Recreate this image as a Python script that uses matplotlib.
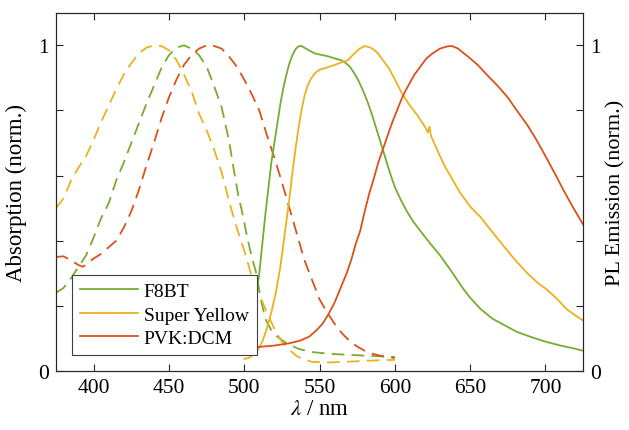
import numpy as np
import matplotlib.pyplot as plt
import matplotlib as mpl
from matplotlib.ticker import FixedLocator, FuncFormatter

mpl.rcParams.update({'font.family': 'Liberation Serif',
                     'mathtext.fontset': 'stix',
                     'font.size': 15.5})

GREEN = '#77AC30'
YELLOW = '#EDB120'
RED = '#D95319'

# absorption spectra (dashed)
f8bt_abs_wl = [375, 380, 385, 390, 395, 400, 405, 410, 415, 420, 425, 430, 435, 440, 445,
               450, 455, 460, 465, 470, 475, 480, 485, 490, 493, 496, 499, 502, 505, 508,
               511, 514, 518, 522, 528, 536, 545, 556, 567, 580, 590, 600]
f8bt_abs = [0.24, 0.255, 0.285, 0.32, 0.355, 0.41, 0.47, 0.515, 0.585, 0.64, 0.70, 0.76,
            0.82, 0.875, 0.93, 0.97, 0.993, 1.0, 0.99, 0.97, 0.935, 0.875, 0.81, 0.705,
            0.62, 0.54, 0.48, 0.41, 0.35, 0.30, 0.22, 0.16, 0.125, 0.105, 0.085, 0.068,
            0.058, 0.053, 0.05, 0.047, 0.045, 0.043]

sy_abs_wl = [375, 380, 385, 390, 395, 400, 405, 410, 415, 420, 425, 430, 435, 440, 445,
             450, 455, 460, 465, 470, 475, 480, 485, 490, 495, 500, 505, 510, 515, 520,
             525, 530, 535, 540, 545, 555, 567, 580, 590, 600]
sy_abs = [0.50, 0.53, 0.585, 0.625, 0.66, 0.71, 0.765, 0.815, 0.865, 0.91, 0.945, 0.975,
          0.993, 1.0, 0.998, 0.985, 0.955, 0.91, 0.86, 0.79, 0.74, 0.68, 0.61, 0.52, 0.44,
          0.37, 0.29, 0.235, 0.18, 0.13, 0.09, 0.065, 0.045, 0.035, 0.028, 0.026, 0.028,
          0.031, 0.033, 0.034]

dcm_abs_wl = [375, 380, 385, 390, 393, 397, 400, 405, 410, 415, 420, 425, 430, 435, 440,
              445, 450, 455, 460, 465, 470, 475, 480, 485, 490, 495, 500, 505, 510, 515,
              520, 525, 530, 535, 540, 545, 550, 555, 560, 565, 570, 575, 580, 585, 590,
              595, 600]
dcm_abs = [0.35, 0.352, 0.34, 0.325, 0.32, 0.335, 0.345, 0.36, 0.38, 0.40, 0.44, 0.49,
           0.555, 0.63, 0.70, 0.775, 0.84, 0.895, 0.94, 0.97, 0.99, 1.0, 0.998, 0.99,
           0.965, 0.935, 0.895, 0.85, 0.80, 0.725, 0.655, 0.58, 0.50, 0.42, 0.34, 0.28,
           0.22, 0.18, 0.145, 0.115, 0.092, 0.075, 0.062, 0.053, 0.047, 0.043, 0.04]

# photoluminescence spectra (solid)
f8bt_pl_wl = [500, 503, 506, 508, 510, 512, 514, 516, 518, 520, 522, 524, 526, 528, 530,
              532, 534, 536, 538, 541, 544, 547, 552, 556, 560, 564, 567, 570, 573, 576,
              579, 582, 585, 588, 591, 594, 597, 600, 604, 608, 612, 617, 622, 630, 637,
              645, 650, 657, 665, 673, 681, 690, 700, 710, 718, 725]
f8bt_pl = [0.06, 0.10, 0.17, 0.23, 0.30, 0.39, 0.48, 0.56, 0.64, 0.70, 0.76, 0.82, 0.87,
           0.91, 0.945, 0.97, 0.988, 0.997, 0.998, 0.99, 0.982, 0.975, 0.97, 0.966, 0.96,
           0.955, 0.947, 0.935, 0.915, 0.89, 0.86, 0.825, 0.785, 0.74, 0.695, 0.65, 0.605,
           0.565, 0.525, 0.49, 0.46, 0.43, 0.40, 0.355, 0.31, 0.255, 0.225, 0.19, 0.16,
           0.14, 0.12, 0.105, 0.09, 0.078, 0.07, 0.062]

sy_pl_wl = [500, 503, 506, 509, 512, 515, 518, 521, 524, 526, 528, 530, 532, 534, 536,
            538, 540, 542, 544, 547, 550, 555, 560, 565, 569, 572, 576, 580, 584, 588,
            592, 596, 600, 605, 610, 615, 620, 622, 623, 624, 628, 633, 638, 643, 650,
            657, 665, 672, 680, 688, 695, 701, 708, 714, 720, 725]
sy_pl = [0.037, 0.04, 0.05, 0.065, 0.09, 0.13, 0.18, 0.24, 0.32, 0.39, 0.46, 0.53, 0.61,
         0.68, 0.745, 0.80, 0.845, 0.875, 0.895, 0.915, 0.925, 0.932, 0.94, 0.948, 0.955,
         0.97, 0.988, 0.998, 0.993, 0.98, 0.955, 0.93, 0.895, 0.85, 0.815, 0.785, 0.75,
         0.732, 0.75, 0.722, 0.68, 0.63, 0.59, 0.55, 0.505, 0.472, 0.425, 0.385, 0.34,
         0.30, 0.27, 0.25, 0.22, 0.19, 0.17, 0.155]

dcm_pl_wl = [500, 510, 520, 530, 537, 543, 548, 552, 556, 560, 564, 568, 571, 574, 577,
             580, 583, 586, 589, 592, 595, 598, 601, 604, 607, 610, 613, 617, 621, 625,
             630, 635, 638, 642, 646, 650, 655, 660, 668, 675, 681, 688, 694, 700, 707,
             712, 718, 725]
dcm_pl = [0.072, 0.074, 0.078, 0.085, 0.093, 0.105, 0.125, 0.145, 0.175, 0.21, 0.255,
          0.30, 0.34, 0.39, 0.43, 0.49, 0.545, 0.59, 0.64, 0.68, 0.72, 0.76, 0.795, 0.83,
          0.86, 0.885, 0.91, 0.935, 0.96, 0.975, 0.99, 0.997, 0.998, 0.99, 0.975, 0.96,
          0.94, 0.915, 0.877, 0.84, 0.80, 0.755, 0.71, 0.66, 0.60, 0.555, 0.505, 0.45]

fig = plt.figure(figsize=(6.29, 4.31), dpi=100)
ax = fig.add_axes([0.089, 0.137, 0.838, 0.831])

lw = 1.3
dash = (7, 4)
ax.plot(f8bt_abs_wl, f8bt_abs, color=GREEN, lw=lw, dashes=dash)
ax.plot(sy_abs_wl, sy_abs, color=YELLOW, lw=lw, dashes=dash)
ax.plot(dcm_abs_wl, dcm_abs, color=RED, lw=lw, dashes=dash)

ax.plot(f8bt_pl_wl, f8bt_pl, color=GREEN, lw=lw, label='F8BT')
ax.plot(sy_pl_wl, sy_pl, color=YELLOW, lw=lw, label='Super Yellow')
ax.plot(dcm_pl_wl, dcm_pl, color=RED, lw=lw, label='PVK:DCM')

ax.set_xlim(375, 725)
ax.set_ylim(0, 1.1)
ax.set_xticks([400, 450, 500, 550, 600, 650, 700])

yt = [0, 0.2, 0.4, 0.6, 0.8, 1.0]
only_ends = FuncFormatter(lambda v, p: '%g' % v if v in (0, 1) else '')
ax.yaxis.set_major_locator(FixedLocator(yt))
ax.yaxis.set_major_formatter(only_ends)
ax.tick_params(direction='in', top=True, length=5, width=0.8, colors='#262626',
               labelcolor='black', pad=5)

ax2 = ax.twinx()
ax2.set_ylim(0, 1.1)
ax2.yaxis.set_major_locator(FixedLocator(yt))
ax2.yaxis.set_major_formatter(only_ends)
ax2.tick_params(direction='in', length=5, width=0.8, colors='#262626',
                labelcolor='black', pad=5)

for a in (ax, ax2):
    for s in a.spines.values():
        s.set_color('#262626')
        s.set_linewidth(0.8)

ax.set_xlabel(r'$\lambda$ / nm', fontsize=16.5, labelpad=1)
ax.set_ylabel('Absorption (norm.)', fontsize=16.5, labelpad=8)
ax2.set_ylabel('PL Emission (norm.)', fontsize=16, labelpad=4)

leg = ax.legend(loc='lower left', bbox_to_anchor=(0.03, 0.045), borderaxespad=0,
                fancybox=False, framealpha=1, edgecolor='#404040', fontsize=14,
                handlelength=3.0, handletextpad=0.3, labelspacing=0.3)
leg.get_frame().set_linewidth(0.8)
leg.set_zorder(5)

fig.savefig('out.png', dpi=100)
